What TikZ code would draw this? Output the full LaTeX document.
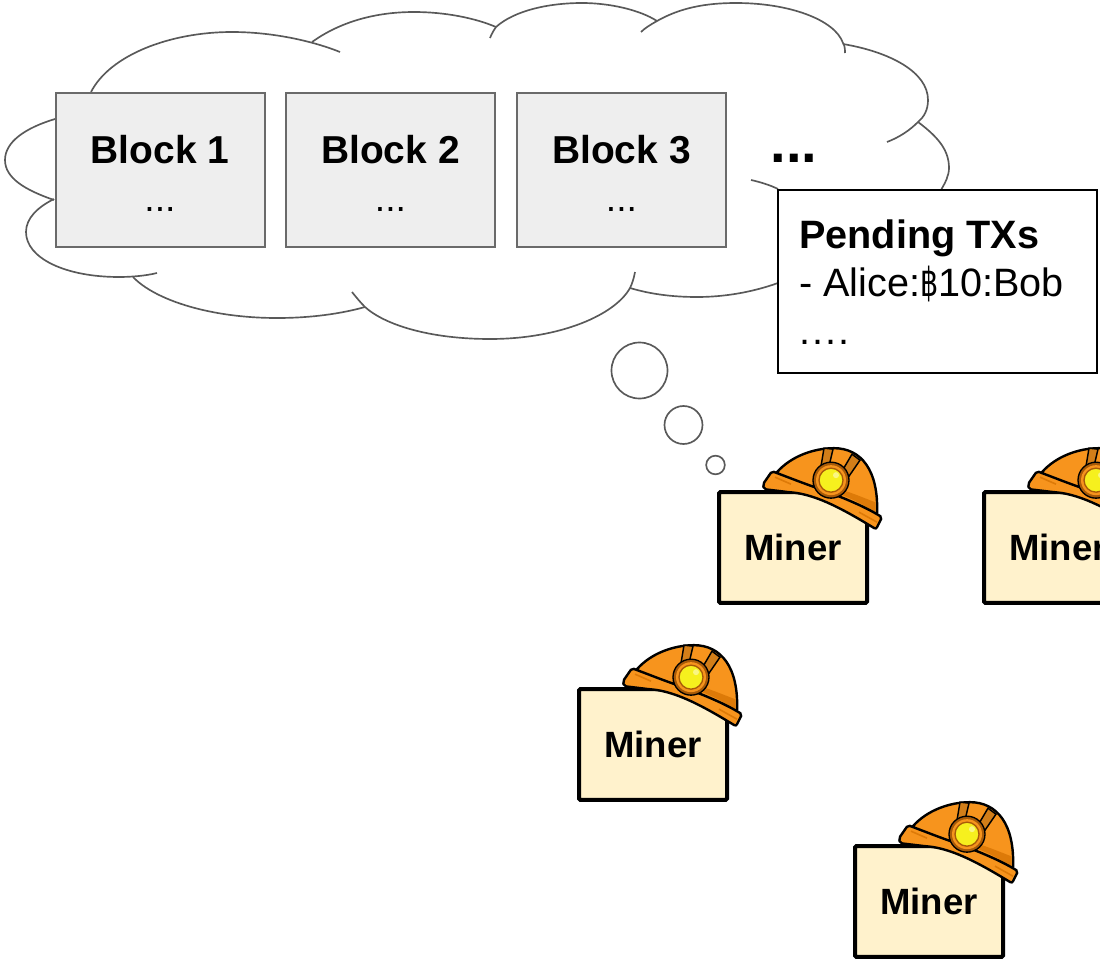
\documentclass[tikz,border=0pt]{standalone}
\usepackage{fontspec}
\setmainfont{Liberation Sans}
\newfontfamily\bahtfont[FakeStretch=0.72]{DejaVu Sans}
\usepackage{tikz}
\definecolor{linegray}{HTML}{595959}
\definecolor{blockgray}{HTML}{EEEEEE}
\definecolor{minercream}{HTML}{FFF2CC}
\definecolor{hatorange}{HTML}{F7941D}
\definecolor{hatdark}{HTML}{DD7A08}
\definecolor{hatbrown}{HTML}{A85A08}
\definecolor{lampyellow}{HTML}{F6F01E}
\tikzset{
	cloudline/.style={draw=linegray, line width=1.25pt},
	blockbox/.style={draw=linegray!90, fill=blockgray, line width=1.5pt, outer sep=0pt, minimum width=156.75pt, minimum height=115.5pt, align=center, font=\fontsize{29.2}{35}\selectfont},
	pendingbox/.style={draw=black, fill=white, line width=1.3pt, outer sep=0pt, minimum width=239pt, minimum height=137pt},
	minerbox/.style={draw=black, fill=minercream, line width=3pt, rounded corners=1pt, outer sep=0pt, minimum width=111pt, minimum height=83pt, font=\fontsize{27.4}{32}\selectfont\bfseries},
	bubble/.style={circle, draw=linegray, line width=1.25pt, fill=white, inner sep=0pt, outer sep=0pt},
	helmet/.pic={
		% dome
		\draw[fill=hatorange, line width=1.8pt] (58,-20) .. controls (72,-36) and (95,-44) .. (115,-44) .. controls (142,-44) and (160,-22) .. (158,22) -- (115,10) -- (70,-5) -- cycle;
		\fill[hatdark] (76,-4) .. controls (95,-8) and (125,0) .. (156,20) -- (156,10) .. controls (130,0) and (100,-14) .. (76,-4) -- cycle;
		% straps
		\draw[fill=hatorange!85!black, line width=1.1pt] (105,-44) -- (114,-43) -- (110,-26) -- (102,-26) -- cycle;
		\draw[fill=hatorange!85!black, line width=1.1pt] (133,-38) -- (141,-32) -- (130,-16) -- (123,-21) -- cycle;
		% brim
		\draw[fill=hatorange, line width=1.8pt, rounded corners=1.5pt] (44,-8) -- (53,-21) -- (74,-13) .. controls (100,-3) and (135,8) .. (163,25) -- (157,37) -- (147,31) .. controls (120,15) and (95,2) .. (70,0) -- (45,-3) -- cycle;
		\draw[hatdark, line width=1.2pt] (56,-15) -- (72,-8);
		\draw[hatdark, line width=1.2pt] (140,20) -- (158,30);
		% lamp
		\draw[fill=hatbrown, line width=1pt] (112,-12) circle (18);
		\fill[hatorange] (112,-12) circle (15);
		\draw[draw=hatbrown, fill=lampyellow, line width=1pt] (112,-12) circle (12);
		\fill[white, opacity=.45] (117,-17) circle (3);
	}
}
\begin{document}
\begin{tikzpicture}[x=.75pt, y=-.75pt]
	\path[use as bounding box, clip] (0,0) rectangle (1100,960);

	% cloud outline, piece by piece
	\path[cloudline] (91,92) .. controls (110,55) and (170,32) .. (232,32) .. controls (270,32) and (310,40) .. (340,52);
	\path[cloudline] (312,42) .. controls (340,22) and (375,12) .. (414,12) .. controls (445,12) and (475,18) .. (496,27);
	\path[cloudline] (490,38) .. controls (492,33) and (494,30) .. (496,27) .. controls (515,10) and (550,3) .. (582,3) .. controls (610,3) and (640,10) .. (657,21);
	\path[cloudline] (641,32) .. controls (645,28) and (650,25) .. (657,21) .. controls (680,8) and (705,3) .. (736,3) .. controls (790,3) and (835,20) .. (843,43) .. controls (845,46) and (845,50) .. (845,53);
	\path[cloudline] (843,44) .. controls (890,52) and (928,72) .. (928,100) .. controls (928,110) and (924,117) .. (918,122) .. controls (910,130) and (900,137) .. (887,142);
	\path[cloudline] (918,122) .. controls (938,137) and (949,150) .. (949,168) .. controls (949,176) and (945,183) .. (941,190);
	\path[cloudline] (751,180) .. controls (760,182) and (770,185) .. (778,189);
	\path[cloudline] (778,283) .. controls (750,293) and (722,297) .. (697,297) .. controls (672,297) and (650,294) .. (630,288);
	\path[cloudline] (635,272) .. controls (634,278) and (632,284) .. (630,288) .. controls (615,315) and (560,339) .. (490,339) .. controls (430,339) and (385,325) .. (365,307) .. controls (360,302) and (356,297) .. (352,292);
	\path[cloudline] (365,307) .. controls (340,314) and (310,318) .. (277,318) .. controls (210,318) and (155,300) .. (133,277);
	\path[cloudline] (157,273) .. controls (145,276) and (130,277) .. (119,277) .. controls (65,277) and (26,258) .. (26,232) .. controls (26,218) and (38,207) .. (54,199);
	\path[cloudline] (54,200) .. controls (25,190) and (5,178) .. (5,160) .. controls (5,142) and (25,128) .. (55,119);

	\foreach \num/\cx in {1/160,2/390.5,3/621.5}
		\node[blockbox] (block\num) at (\cx,170.2) {\rule{0pt}{26pt}\textbf{Block \num}\\[1.5pt]\fontsize{28}{30}\selectfont ...};

	\node[font=\fontsize{42}{44}\selectfont\bfseries] (more) at (794,158) {...};

	\node[pendingbox] (pending) at (937.5,281.5) {};
	\node[anchor=north west, inner sep=0pt, align=left, font=\fontsize{29.7}{36}\selectfont] (pendingtext) at (799,220) {\textbf{Pending TXs}\\- Alice:{\bahtfont ฿}10:Bob\\.\kern1.5pt.\kern1.5pt.\kern1.5pt.};

	\node[bubble, minimum size=42pt] (bubble1) at (639.5,370.5) {};
	\node[bubble, minimum size=28.5pt] (bubble2) at (683.5,425) {};
	\node[bubble, minimum size=14pt] (bubble3) at (715.5,465) {};

	\foreach \name/\cx/\cy in {minerA/793/547.5, minerB/1058/547.5, minerC/653/744.5, minerD/929/901.5} {
		\node[minerbox] (\name) at (\cx,\cy) {Miner};
		\pic at (\name.north west) {helmet};
	}
\end{tikzpicture}
\end{document}
